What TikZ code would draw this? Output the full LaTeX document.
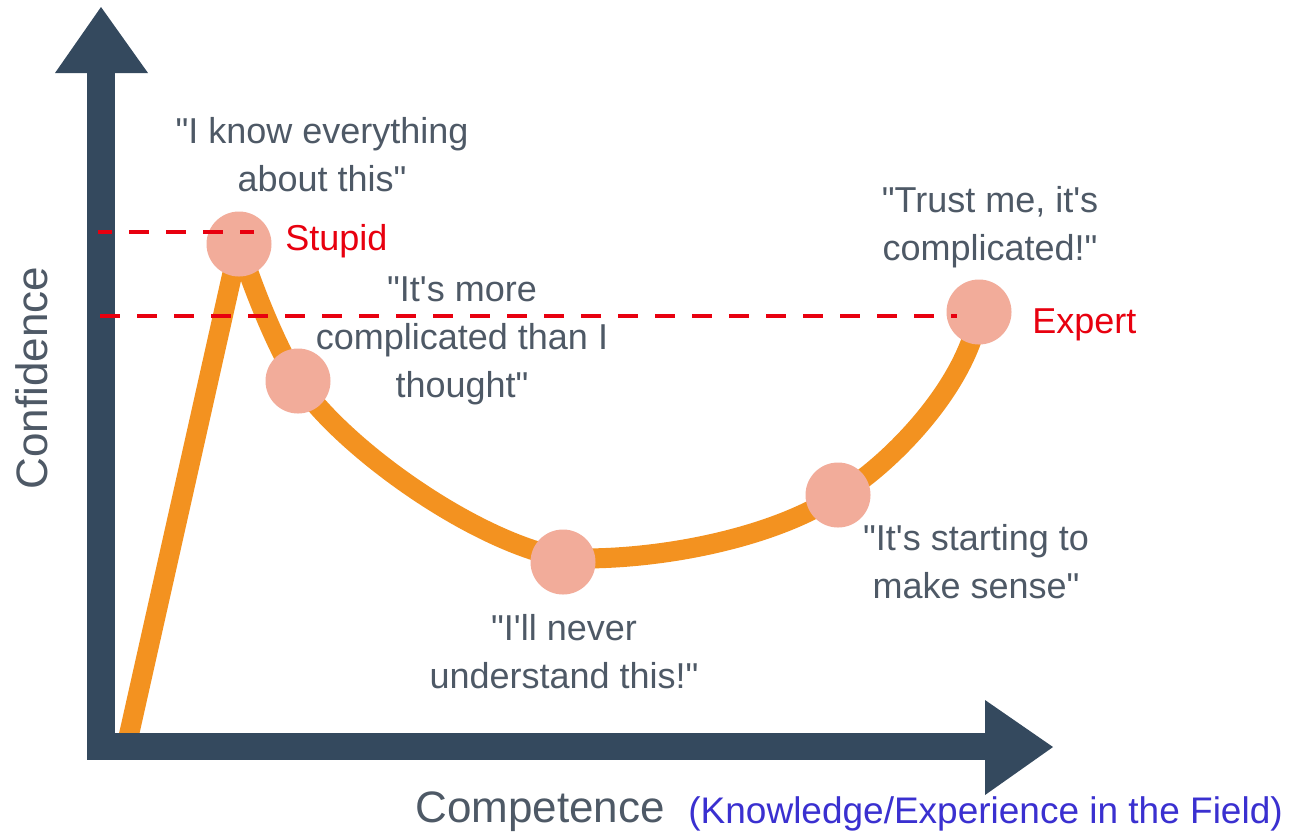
\documentclass[tikz,border=0pt]{standalone}
\usepackage{fontspec}
\newfontfamily\lsans{Liberation Sans}
\definecolor{axiscol}{HTML}{34495E}
\definecolor{curvecol}{HTML}{F39220}
\definecolor{dotcol}{HTML}{F2AC9A}
\definecolor{redcol}{HTML}{E8000F}
\definecolor{txtcol}{HTML}{4E5966}
\definecolor{bluecol}{HTML}{3A30D0}
\begin{document}
\begin{tikzpicture}[x=0.5pt,y=-0.5pt,
  curveline/.style={draw=curvecol, line width=10pt, line cap=round, line join=round},
  axisfill/.style={fill=axiscol},
  dotnode/.style={circle, fill=dotcol, minimum size=32.5pt, inner sep=0pt},
  redash/.style={draw=redcol, line width=2pt, dash pattern=on 10pt off 8.5pt},
  quote/.style={text=txtcol, font=\lsans\fontsize{18}{24}\selectfont, align=center, inner sep=0pt},
  lbl/.style={text=redcol, font=\lsans\fontsize{18}{24}\selectfont, inner sep=0pt},
  axislbl/.style={text=txtcol, font=\lsans\fontsize{22}{26}\selectfont, inner sep=0pt}]
\useasboundingbox (0,0) rectangle (1293,832);
\fill[white] (0,0) rectangle (1293,832);

% key coordinates
\coordinate (O) at (126,748);
\coordinate (P1) at (239,244);
\coordinate (P2) at (298,381);
\coordinate (P3) at (563,558);
\coordinate (P4) at (838,495);
\coordinate (P5) at (979,312);

% curve
\draw[curveline] (O) -- (P1);
\draw[curveline] (P1) .. controls (250,280) and (275,345) .. (P2)
  .. controls (340,445) and (470,540) .. (P3)
  .. controls (650,562) and (770,540) .. (P4)
  .. controls (875,476) and (965,395) .. (P5);

% axes
\fill[axisfill] (87,73) rectangle (115,760);
\fill[axisfill] (55,73) -- (101,7) -- (148,73) -- cycle;
\fill[axisfill] (87,733) rectangle (987,760);
\fill[axisfill] (985,700) -- (1053,747) -- (985,795) -- cycle;

% dots
\node[dotnode] (d1) at (P1) {};
\node[dotnode] (d2) at (P2) {};
\node[dotnode] (d3) at (563,562) {};
\node[dotnode] (d4) at (P4) {};
\node[dotnode] (d5) at (P5) {};

% dashed reference lines
\coordinate (s0) at (98,232);
\coordinate (s1) at (254,232);
\coordinate (e0) at (100,316);
\coordinate (e1) at (957,316);
\draw[redash, dash phase=3pt] (s0) -- (s1);
\draw[redash] (e0) -- (e1);

% texts
\node[quote, anchor=north] (t1) at (322,117) {"I know everything\\about this"};
\node[quote, anchor=north] (t2) at (462,276) {"It's more\\complicated than I\\thought"};
\node[quote, anchor=north] (t3) at (990,186) {"Trust me, it's\\complicated!"};
\node[quote, anchor=north] (t4) at (976,524) {"It's starting to\\make sense"};
\node[quote, anchor=north] (t5) at (564,614) {"I'll never\\understand this!"};
\node[lbl, anchor=base west] (stupid) at (285,250) {Stupid};
\node[lbl, anchor=base west] (expert) at (1032,333) {Expert};
\node[axislbl, rotate=90] (conf) at (32,378) {Confidence};
\node[axislbl, anchor=base west] (comp) at (415,822) {Competence};
\node[text=bluecol, font=\lsans\fontsize{18.5}{22}\selectfont, inner sep=0pt, anchor=base west] (field) at (688,823) {(Knowledge/Experience in the Field)};
\end{tikzpicture}
\end{document}
